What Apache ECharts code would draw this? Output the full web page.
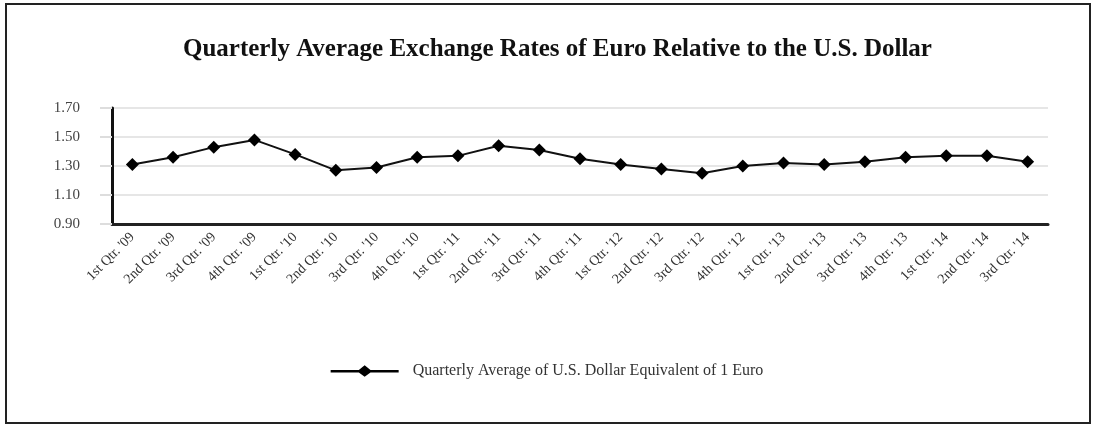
<!DOCTYPE html>
<html>
<head>
<meta charset="utf-8">
<script src="https://cdn.jsdelivr.net/npm/echarts@6/dist/echarts.min.js"></script>
<style>
html,body{margin:0;padding:0;background:#fff;}
#frame{position:absolute;left:5px;top:3px;width:1086px;height:421px;border:2px solid #222;box-sizing:border-box;}
#chart{position:absolute;left:0;top:0;width:1094px;height:427px;}
</style>
</head>
<body>
<div id="frame"></div>
<div id="chart"></div>
<script>
const categories = ["1st Qtr. '09","2nd Qtr. '09","3rd Qtr. '09","4th Qtr. '09",
  "1st Qtr. '10","2nd Qtr. '10","3rd Qtr. '10","4th Qtr. '10",
  "1st Qtr. '11","2nd Qtr. '11","3rd Qtr. '11","4th Qtr. '11",
  "1st Qtr. '12","2nd Qtr. '12","3rd Qtr. '12","4th Qtr. '12",
  "1st Qtr. '13","2nd Qtr. '13","3rd Qtr. '13","4th Qtr. '13",
  "1st Qtr. '14","2nd Qtr. '14","3rd Qtr. '14"];
const rates = [1.31,1.36,1.43,1.48,1.38,1.27,1.29,1.36,1.37,1.44,1.41,1.35,1.31,1.28,1.25,1.30,1.32,1.31,1.33,1.36,1.37,1.37,1.33];
const seriesName = "Quarterly Average of U.S. Dollar Equivalent of 1 Euro";
const titleText = "Quarterly Average Exchange Rates of Euro Relative to the U.S. Dollar";

const chart = echarts.init(document.getElementById('chart'));
const serif = "'Liberation Serif', 'DejaVu Serif', serif";
const legendIcon = 'path://M0,5 L29,5 L35,0 L41,5 L70,5 L70,7.5 L41,7.5 L35,12 L29,7.5 L0,7.5 Z';
chart.setOption({
  backgroundColor: 'transparent',
  animation: false,
  title: {
    text: titleText,
    left: 178,
    top: 32,
    textStyle: {fontFamily: serif, fontSize: 25, fontWeight: 'bold', color: '#111'}
  },
  legend: {
    bottom: 43,
    left: 'center',
    itemWidth: 68,
    itemHeight: 12,
    itemGap: 10,
    textStyle: {fontFamily: serif, fontSize: 16, color: '#333', padding: [0,0,0,9]},
    data: [{name: seriesName, icon: legendIcon, itemStyle: {color: '#000'}}]
  },
  grid: {left: 112, right: 46, top: 108, bottom: 203, containLabel: false},
  xAxis: {
    type: 'category',
    data: categories,
    boundaryGap: true,
    axisLine: {lineStyle: {color: '#222', width: 3}},
    axisTick: {alignWithLabel: true, length: 10, lineStyle: {color: '#555', width: 1.5}},
    axisLabel: {rotate: 45, fontFamily: serif, fontSize: 14, color: '#333', margin: 11, interval: 0}
  },
  yAxis: {
    type: 'value',
    min: 0.9, max: 1.7, interval: 0.2,
    axisLine: {show: true, lineStyle: {color: '#111', width: 3}},
    axisTick: {show: true, length: 12, lineStyle: {color: '#ddd', width: 2}},
    splitLine: {lineStyle: {color: '#e6e6e6', width: 2}},
    axisLabel: {formatter: v => v.toFixed(2), fontFamily: serif, fontSize: 15, color: '#444', margin: 32}
  },
  series: [{
    name: seriesName,
    type: 'line',
    data: rates,
    symbol: 'diamond',
    symbolSize: 13,
    lineStyle: {color: '#111', width: 2},
    itemStyle: {color: '#000'}
  }]
});
</script>
</body>
</html>
